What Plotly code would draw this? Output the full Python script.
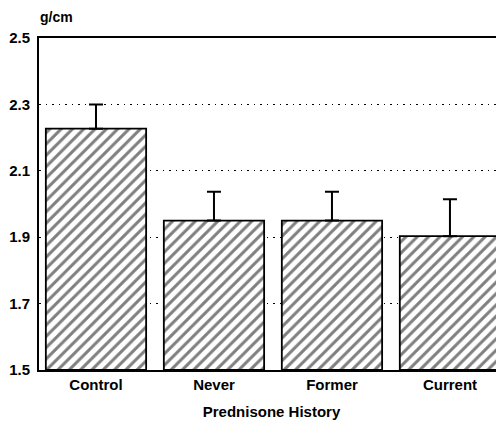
import plotly.graph_objects as go

categories = ["Control", "Never", "Former", "Current"]
means = [2.227, 1.95, 1.95, 1.903]
errors_up = [0.073, 0.087, 0.087, 0.111]
y_ticks = [1.5, 1.7, 1.9, 2.1, 2.3, 2.5]
y_tick_text = ["1.5", "1.7", "1.9", "2.1", "2.3", "2.5"]
y_unit = "g/cm"
x_title = "Prednisone History"

FONT = "Liberation Sans, Arial, Helvetica, sans-serif"

# page body has an 8px margin, so the figure is 8px smaller than the window
W, H = 496, 415
L, T, B = 31, 30, 53
PH = H - T - B

fig = go.Figure()
fig.add_trace(go.Bar(
    x=list(range(len(categories))),
    y=[m - 1.5 for m in means],
    base=1.5,
    width=0.85,
    marker=dict(
        color="white",
        line=dict(color="black", width=1.8),
        pattern=dict(shape="/", size=8, solidity=0.38, fgcolor="black", bgcolor="white"),
    ),
    error_y=dict(
        type="data", symmetric=False, array=errors_up,
        arrayminus=[0] * len(errors_up),
        color="black", thickness=2, width=7,
    ),
    showlegend=False,
))

fig.update_layout(
    width=W, height=H,
    margin=dict(l=L, r=0, t=T, b=B),
    paper_bgcolor="white", plot_bgcolor="white",
    font=dict(family=FONT, color="black", size=15, weight="bold"),
    bargap=0.15,
)
fig.update_xaxes(
    range=[-0.483, 3.458],
    tickvals=list(range(len(categories))),
    ticktext=categories,
    showline=True, linecolor="black", linewidth=1.8, mirror=True,
    ticks="", showgrid=False, zeroline=False,
    tickfont=dict(size=15, family=FONT, weight="bold"),
    title=dict(text=x_title, font=dict(size=15, family=FONT, weight="bold"), standoff=15),
)
fig.update_yaxes(
    range=[1.5, 2.5],
    tickvals=y_ticks, ticktext=y_tick_text,
    showline=True, linecolor="black", linewidth=1.8,
    ticks="", ticklabelstandoff=4,
    showgrid=True, gridcolor="black", gridwidth=1.4, griddash="1.5px,5px",
    zeroline=False,
    tickfont=dict(size=15, family=FONT, weight="bold"),
)
fig.add_annotation(
    text=y_unit, xref="paper", yref="paper",
    x=(30 - L) / (W - L), y=1 + (T - 9) / PH,
    showarrow=False, xanchor="left", yanchor="middle",
    font=dict(size=14, family=FONT, weight="bold"),
)
fig.write_html("out.html")
